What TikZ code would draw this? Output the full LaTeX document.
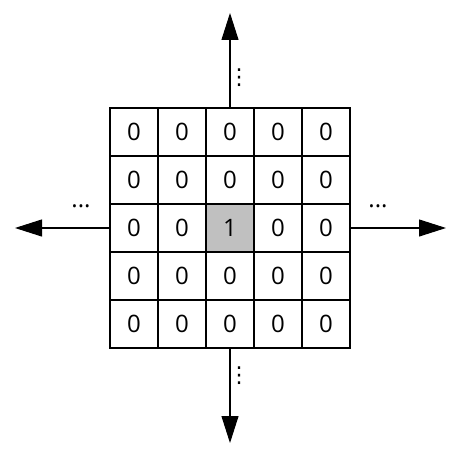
\documentclass[tikz,border=0pt]{standalone}
\usepackage{fontspec}
\setmainfont{Open Sans}
\newfontfamily\symfont{DejaVu Sans}
\usetikzlibrary{arrows.meta}
\definecolor{cellgray}{HTML}{C0C0C0}
\begin{document}
\begin{tikzpicture}[x=1pt,y=1pt,
  cell/.style={draw,line width=1.1pt,minimum size=48pt,inner sep=0pt,font=\fontsize{24}{26}\selectfont},
  hot/.style={cell,fill=cellgray},
  arr/.style={line width=1.1pt,-{Triangle[length=27pt,width=17pt]}},
  dots/.style={font=\fontsize{24}{26}\selectfont,inner sep=0pt},
  vdots/.style={font=\symfont\fontsize{22}{24}\selectfont,inner sep=0pt}]
\useasboundingbox (0,0) rectangle (460,-460);
\foreach \r in {1,...,5}{
  \foreach \c in {1,...,5}{
    \pgfmathsetmacro\xx{110+48*(\c-1)+24}
    \pgfmathsetmacro\yy{-(108+48*(\r-1)+24)}
    \ifnum\r=3 \ifnum\c=3
      \node[hot] (c-\r-\c) at (\xx,\yy) {1};
    \else
      \node[cell] (c-\r-\c) at (\xx,\yy) {0};
    \fi\else
      \node[cell] (c-\r-\c) at (\xx,\yy) {0};
    \fi
  }
}
\coordinate (top) at (230,-13);
\coordinate (bot) at (230,-443);
\coordinate (lft) at (15,-228);
\coordinate (rgt) at (446,-228);
\draw[arr] (c-1-3.north) -- (top);
\draw[arr] (c-5-3.south) -- (bot);
\draw[arr] (c-3-1.west) -- (lft);
\draw[arr] (c-3-5.east) -- (rgt);
\node[vdots] (dt) at (239,-78) {⋮};
\node[vdots] (db) at (239,-376) {⋮};
\node[dots] (dl) at (81,-206) {...};
\node[dots] (dr) at (378,-206) {...};
\end{tikzpicture}
\end{document}
